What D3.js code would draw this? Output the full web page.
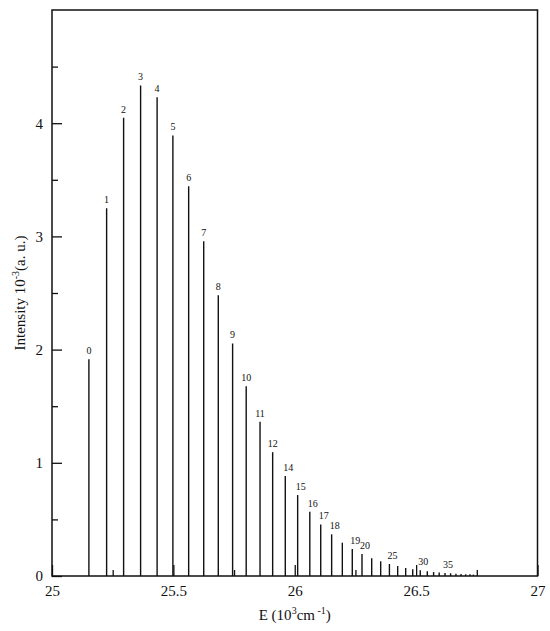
<!DOCTYPE html>
<html>
<head>
<meta charset="utf-8">
<script src="https://cdn.jsdelivr.net/npm/d3@7"></script>
<style>
  body { margin: 0; background: #fff; }
  svg, svg text { font-family: "Liberation Serif", "DejaVu Serif", serif; }
</style>
</head>
<body>
<div id="graph"></div>
<script>
// peak positions (10^3 cm^-1) and intensities (10^-3 a.u.)
var energies = [25.152, 25.225, 25.295, 25.365, 25.433, 25.498, 25.563, 25.625, 25.685, 25.744,
  25.800, 25.857, 25.909, 25.961, 26.012, 26.062, 26.107, 26.152, 26.196, 26.237,
  26.277, 26.317, 26.354, 26.390, 26.424, 26.457, 26.486, 26.517, 26.546, 26.572,
  26.595, 26.619, 26.642, 26.664, 26.685, 26.704, 26.722, 26.736];
var intensities = [1.915, 3.248, 4.049, 4.334, 4.230, 3.892, 3.442, 2.957, 2.480, 2.054,
  1.677, 1.362, 1.094, 0.883, 0.715, 0.567, 0.456, 0.368, 0.294, 0.238,
  0.194, 0.156, 0.130, 0.106, 0.088, 0.071, 0.059, 0.050, 0.041, 0.035,
  0.032, 0.026, 0.024, 0.020, 0.018, 0.015, 0.015, 0.012];
var peakLabels = ["0", "1", "2", "3", "4", "5", "6", "7", "8", "9",
  "10", "11", "12", "14", "15", "16", "17", "18", "", "19",
  "20", "", "", "25", "", "", "", "30", "", "",
  "", "35", "", "", "", "", "", ""];

var xMajor = [25, 25.5, 26, 26.5, 27];
var xMinor = [25.25, 25.75, 26.25, 26.75];
var yMajor = [0, 1, 2, 3, 4];
var yMinor = [0.5, 1.5, 2.5, 3.5, 4.5];

var svgWidth = 550, svgHeight = 631;
var margin = { top: 10, right: 12.5, bottom: 55, left: 52 };
var width = svgWidth - margin.left - margin.right;
var height = svgHeight - margin.top - margin.bottom;

var svg = d3.select('#graph')
  .append('svg')
    .attr('width', svgWidth)
    .attr('height', svgHeight);

var g = svg.append('g')
    .attr('transform', 'translate(' + margin.left + ',' + margin.top + ')');

var x = d3.scaleLinear().domain([25, 27]).range([0, width]);
var y = d3.scaleLinear().domain([0, 5]).range([height, 0]);

// ticks point inwards
g.append('g')
    .attr('transform', 'translate(0,' + height + ')')
    .call(d3.axisBottom(x).tickValues(xMajor).tickSize(-11).tickSizeOuter(0).tickPadding(9)
      .tickFormat(function(d) { return d; }));
g.append('g')
    .attr('transform', 'translate(0,' + height + ')')
    .call(d3.axisBottom(x).tickValues(xMinor).tickSize(-6).tickSizeOuter(0).tickFormat(''));

g.append('g')
    .call(d3.axisLeft(y).tickValues(yMajor).tickSize(-10).tickSizeOuter(0).tickPadding(9)
      .tickFormat(function(d) { return d; }));
g.append('g')
    .call(d3.axisLeft(y).tickValues(yMinor).tickSize(-6).tickSizeOuter(0).tickFormat(''));

g.selectAll('.domain').remove();
g.selectAll('g').attr('font-family', '"Liberation Serif", serif');
g.selectAll('.tick line').attr('stroke', '#111').attr('stroke-width', 1.3);
g.selectAll('.tick text').attr('font-size', 15).attr('fill', '#111');

// spectral lines
g.selectAll('.peak')
  .data(energies)
  .enter().append('line')
    .attr('class', 'peak')
    .attr('x1', function(d) { return x(d); })
    .attr('x2', function(d) { return x(d); })
    .attr('y1', height)
    .attr('y2', function(d, i) { return y(intensities[i]); })
    .attr('stroke', '#111')
    .attr('stroke-width', 1.4);

g.selectAll('.plabel')
  .data(energies.filter(function(d, i) { return peakLabels[i] !== ''; }))
  .enter().append('text')
    .attr('class', 'plabel')
    .each(function(d) {
      var i = energies.indexOf(d);
      d3.select(this)
        .attr('x', x(d) + (i > 12 ? 3 : 0))
        .attr('y', y(intensities[i]) - 5)
        .text(peakLabels[i]);
    })
    .attr('text-anchor', 'middle')
    .attr('font-size', 10)
    .attr('fill', '#111');

// frame
g.append('rect')
    .attr('width', width)
    .attr('height', height)
    .attr('fill', 'none')
    .attr('stroke', '#111')
    .attr('stroke-width', 1.5);

// axis titles
var xt = svg.append('text')
    .attr('x', margin.left + width / 2)
    .attr('y', 620)
    .attr('text-anchor', 'middle')
    .attr('font-size', 15)
    .attr('fill', '#111');
xt.append('tspan').text('E (10');
xt.append('tspan').attr('dy', -6).attr('font-size', 10).text('3');
xt.append('tspan').attr('dy', 6).text('cm');
xt.append('tspan').attr('dy', -6).attr('font-size', 10).text(' -1');
xt.append('tspan').attr('dy', 6).text(')');

var yt = svg.append('text')
    .attr('transform', 'translate(25,' + (margin.top + height / 2) + ') rotate(-90)')
    .attr('text-anchor', 'middle')
    .attr('font-size', 15)
    .attr('fill', '#111');
yt.append('tspan').text('Intensity 10');
yt.append('tspan').attr('dy', -6).attr('font-size', 10).text('-3');
yt.append('tspan').attr('dy', 6).text('(a. u.)');
</script>
</body>
</html>
